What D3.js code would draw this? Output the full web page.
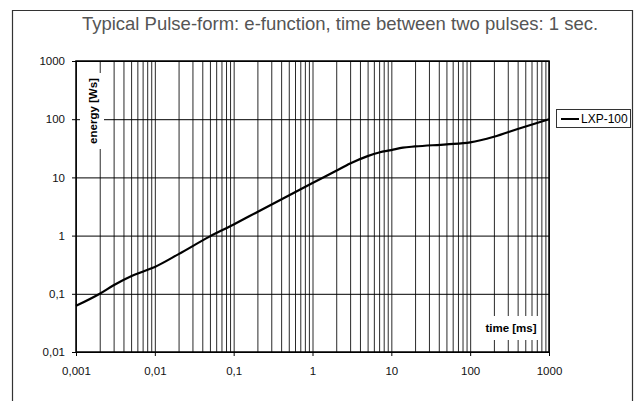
<!DOCTYPE html>
<html>
<head>
<meta charset="utf-8">
<script src="https://cdn.jsdelivr.net/npm/d3@7"></script>
<style>
  body { margin: 0; background: #fff; }
  svg { display: block; font-family: "Liberation Sans", Arial, Helvetica, sans-serif; }
</style>
</head>
<body>
<div id="chart"></div>
<script>
// data
const timeMs = [0.001, 0.002, 0.003, 0.005, 0.007, 0.01, 0.02, 0.05, 0.1, 0.2, 0.5, 1, 2, 3, 5, 7, 10, 14, 20, 50, 100, 200, 400, 1000];
const energyWs = [0.062, 0.1, 0.14, 0.2, 0.24, 0.29, 0.48, 0.97, 1.55, 2.55, 4.9, 8.0, 13, 17.3, 23.2, 26.8, 29.5, 32.5, 34, 37, 40, 50, 68, 100];

const xTicks = [0.001, 0.01, 0.1, 1, 10, 100, 1000];
const xTickLabels = ["0,001", "0,01", "0,1", "1", "10", "100", "1000"];
const yTicks = [0.01, 0.1, 1, 10, 100, 1000];
const yTickLabels = ["0,01", "0,1", "1", "10", "100", "1000"];

const title = "Typical Pulse-form: e-function, time between two pulses: 1 sec.";
const seriesName = "LXP-100";

const width = 636;
const height = 401;
const plot = { left: 76, top: 61, right: 549, bottom: 352 };

const svg = d3.select("#chart")
  .append("svg")
  .attr("width", width)
  .attr("height", height);

// outer frame (bottom edge is off the picture)
svg.append("path")
  .attr("d", `M12.5,${height + 2} V10.5 H632.5 V${height + 2}`)
  .attr("fill", "none")
  .attr("stroke", "#333")
  .attr("stroke-width", 1.2);

svg.append("text")
  .attr("x", 340)
  .attr("y", 30)
  .attr("text-anchor", "middle")
  .attr("font-size", 18.5)
  .attr("fill", "#555")
  .text(title);

const x = d3.scaleLog().domain([0.001, 1000]).range([plot.left, plot.right]);
const y = d3.scaleLog().domain([0.01, 1000]).range([plot.bottom, plot.top]);

// vertical grid: every 1..9 within each decade
const minorX = [];
xTicks.slice(0, -1).forEach(d => {
  for (let k = 1; k <= 9; k++) minorX.push(d * k);
});
minorX.push(1000);

svg.append("g")
  .attr("transform", `translate(0,${plot.bottom})`)
  .call(d3.axisBottom(x).tickValues(minorX).tickSize(-(plot.bottom - plot.top)).tickFormat(""))
  .call(g => g.select(".domain").remove())
  .call(g => g.selectAll("line").attr("stroke", "#2a2a2a").attr("stroke-width", 1));

// horizontal grid at decades
svg.append("g")
  .attr("transform", `translate(${plot.left},0)`)
  .call(d3.axisLeft(y).tickValues(yTicks).tickSize(-(plot.right - plot.left)).tickFormat(""))
  .call(g => g.select(".domain").remove())
  .call(g => g.selectAll("line").attr("stroke", "#000").attr("stroke-width", 1));

// white boxes behind axis titles
svg.append("rect").attr("x", 80).attr("y", 73).attr("width", 24).attr("height", 76).attr("fill", "#fff");
svg.append("rect").attr("x", 485).attr("y", 316).attr("width", 55).attr("height", 24).attr("fill", "#fff");

svg.append("text")
  .attr("transform", "translate(96.5,111) rotate(-90)")
  .attr("text-anchor", "middle")
  .attr("font-size", 11.5)
  .attr("font-weight", "bold")
  .text("energy [Ws]");

svg.append("text")
  .attr("x", 511)
  .attr("y", 332)
  .attr("text-anchor", "middle")
  .attr("font-size", 11.5)
  .attr("font-weight", "bold")
  .text("time [ms]");

// axes with labels
const xAxis = svg.append("g")
  .attr("transform", `translate(0,${plot.bottom})`)
  .call(d3.axisBottom(x).tickValues(xTicks).tickSize(4).tickPadding(11)
    .tickFormat((d, i) => xTickLabels[i]));
xAxis.select(".domain").remove();
xAxis.selectAll("line").attr("stroke", "#000");
xAxis.selectAll("text").attr("font-size", 11.5).attr("fill", "#111").attr("font-family", null);

const yAxis = svg.append("g")
  .attr("transform", `translate(${plot.left},0)`)
  .call(d3.axisLeft(y).tickValues(yTicks).tickSize(4).tickPadding(7)
    .tickFormat((d, i) => yTickLabels[i]));
yAxis.select(".domain").remove();
yAxis.selectAll("line").attr("stroke", "#000");
yAxis.selectAll("text").attr("font-size", 11.5).attr("fill", "#111").attr("font-family", null);

// plot border
svg.append("rect")
  .attr("x", plot.left)
  .attr("y", plot.top)
  .attr("width", plot.right - plot.left)
  .attr("height", plot.bottom - plot.top)
  .attr("fill", "none")
  .attr("stroke", "#000")
  .attr("stroke-width", 1.5);

// curve
const line = d3.line()
  .x((d, i) => x(timeMs[i]))
  .y(d => y(d))
  .curve(d3.curveMonotoneX);

svg.append("path")
  .datum(energyWs)
  .attr("d", line)
  .attr("fill", "none")
  .attr("stroke", "#000")
  .attr("stroke-width", 2.2);

// legend
const legend = svg.append("g");
legend.append("rect")
  .attr("x", 556.5).attr("y", 109.5).attr("width", 74).attr("height", 18)
  .attr("fill", "#fff").attr("stroke", "#333").attr("stroke-width", 1);
legend.append("line")
  .attr("x1", 561).attr("x2", 579).attr("y1", 119).attr("y2", 119)
  .attr("stroke", "#000").attr("stroke-width", 2);
legend.append("text")
  .attr("x", 581).attr("y", 123.2)
  .attr("font-size", 12)
  .text(seriesName);
</script>
</body>
</html>
